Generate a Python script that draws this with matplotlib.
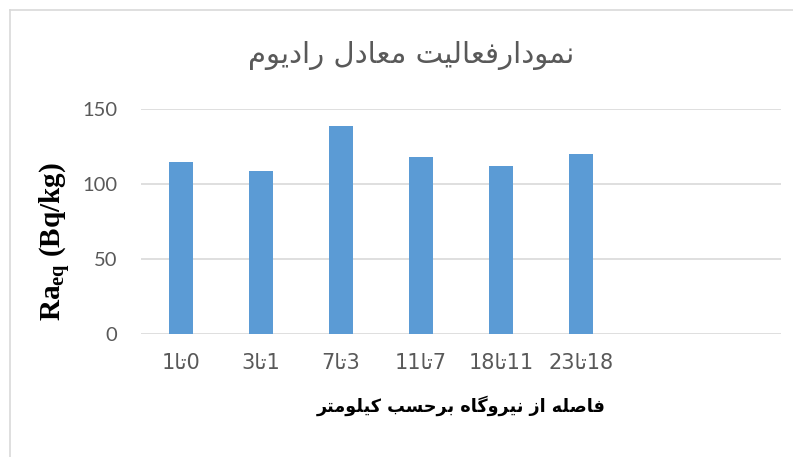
import matplotlib
matplotlib.use("Agg")
import matplotlib.pyplot as plt
from matplotlib.lines import Line2D

# data
starts = [0, 1, 3, 7, 11, 18]
ends = [1, 3, 7, 11, 18, 23]
values = [114.7, 108.9, 139.0, 118.2, 112.4, 120.4]
n_slots = 8  # excel axis leaves two empty categories at the right

title_fa = "نمودارفعالیت معادل رادیوم"
xlabel_fa = "فاصله از نیروگاه برحسب کیلومتر"
to_fa = "تا"

# arabic presentation forms: isolated, final, initial, medial
FORMS = {
    "ا": ("\uFE8D", "\uFE8E", None, None),
    "ب": ("\uFE8F", "\uFE90", "\uFE91", "\uFE92"),
    "ت": ("\uFE95", "\uFE96", "\uFE97", "\uFE98"),
    "ح": ("\uFEA1", "\uFEA2", "\uFEA3", "\uFEA4"),
    "د": ("\uFEA9", "\uFEAA", None, None),
    "ر": ("\uFEAD", "\uFEAE", None, None),
    "ز": ("\uFEAF", "\uFEB0", None, None),
    "س": ("\uFEB1", "\uFEB2", "\uFEB3", "\uFEB4"),
    "ص": ("\uFEB9", "\uFEBA", "\uFEBB", "\uFEBC"),
    "ع": ("\uFEC9", "\uFECA", "\uFECB", "\uFECC"),
    "ف": ("\uFED1", "\uFED2", "\uFED3", "\uFED4"),
    "ل": ("\uFEDD", "\uFEDE", "\uFEDF", "\uFEE0"),
    "م": ("\uFEE1", "\uFEE2", "\uFEE3", "\uFEE4"),
    "ن": ("\uFEE5", "\uFEE6", "\uFEE7", "\uFEE8"),
    "ه": ("\uFEE9", "\uFEEA", "\uFEEB", "\uFEEC"),
    "و": ("\uFEED", "\uFEEE", None, None),
    "ی": ("\uFBFC", "\uFBFD", "\uFBFE", "\uFBFF"),
    "ک": ("\uFB8E", "\uFB8F", "\uFB90", "\uFB91"),
    "گ": ("\uFB92", "\uFB93", "\uFB94", "\uFB95"),
}


def shape(word):
    out = []
    for i, ch in enumerate(word):
        if ch not in FORMS:
            out.append(ch)
            continue
        prev = word[i - 1] if i > 0 else None
        nxt = word[i + 1] if i + 1 < len(word) else None
        join_prev = prev in FORMS and FORMS[prev][2] is not None
        join_next = nxt in FORMS and FORMS[ch][2] is not None
        iso, fin, ini, med = FORMS[ch]
        if join_prev and join_next:
            out.append(med)
        elif join_prev:
            out.append(fin)
        elif join_next:
            out.append(ini)
        else:
            out.append(iso)
    return "".join(out)


def visual(s):
    # tiny bidi: split digit runs from rtl runs, reverse run order
    runs = []
    for ch in s:
        kind = ch.isdigit()
        if runs and runs[-1][0] == kind:
            runs[-1][1] += ch
        else:
            runs.append([kind, ch])
    parts = []
    for kind, txt in reversed(runs):
        parts.append(txt if kind else shape(txt)[::-1])
    return "".join(parts)


labels = [visual(f"{a}{to_fa}{b}") for a, b in zip(starts, ends)]

plt.rcParams["mathtext.fontset"] = "custom"
plt.rcParams["mathtext.rm"] = "Liberation Serif"
plt.rcParams["mathtext.bf"] = "Liberation Serif:bold"

fig = plt.figure(figsize=(7.93, 4.57), dpi=100)
ax = fig.add_axes([141 / 793, 1 - 334 / 457, 640 / 793, 224.5 / 457])

x = list(range(len(values)))
ax.bar(x, values, width=0.31, color="#5b9bd5", zorder=3)
ax.set_xlim(-0.5, n_slots - 0.5)
ax.set_ylim(0, 150)
ax.set_yticks([0, 50, 100, 150])
ax.set_xticks(x)
ax.set_xticklabels(labels, family=["DejaVu Sans"], fontsize=15, color="#595959")
for t in ax.get_yticklabels():
    t.set_family("Lato")
    t.set_fontsize(14.5)
    t.set_color("#595959")
ax.tick_params(axis="both", length=0)
ax.tick_params(axis="y", pad=17)
ax.tick_params(axis="x", pad=14)
ax.grid(axis="y", color="#d9d9d9", linewidth=1.2, zorder=0)
for sp in ax.spines.values():
    sp.set_visible(False)

ax.set_ylabel(r"$\mathbf{Ra_{eq}}$ (Bq/kg)", family="Liberation Serif",
              fontweight="bold", fontsize=21, va="center")
ax.yaxis.set_label_coords(-0.133, 0.41)
ax.set_xlabel(visual(xlabel_fa), family=["DejaVu Sans"], fontweight="bold",
              fontsize=12.7, labelpad=16)
fig.text(411 / 793, 1 - 55 / 457, visual(title_fa), family=["DejaVu Sans"],
         fontsize=21, color="#595959", ha="center", va="center")

# chart area frame (extends past right and bottom edges)
fig.add_artist(Line2D([10 / 793, 10 / 793], [0, 1 - 10 / 457], color="#d9d9d9", lw=1.2))
fig.add_artist(Line2D([10 / 793, 1], [1 - 10 / 457, 1 - 10 / 457], color="#d9d9d9", lw=1.2))

fig.savefig("out.png", dpi=100)
